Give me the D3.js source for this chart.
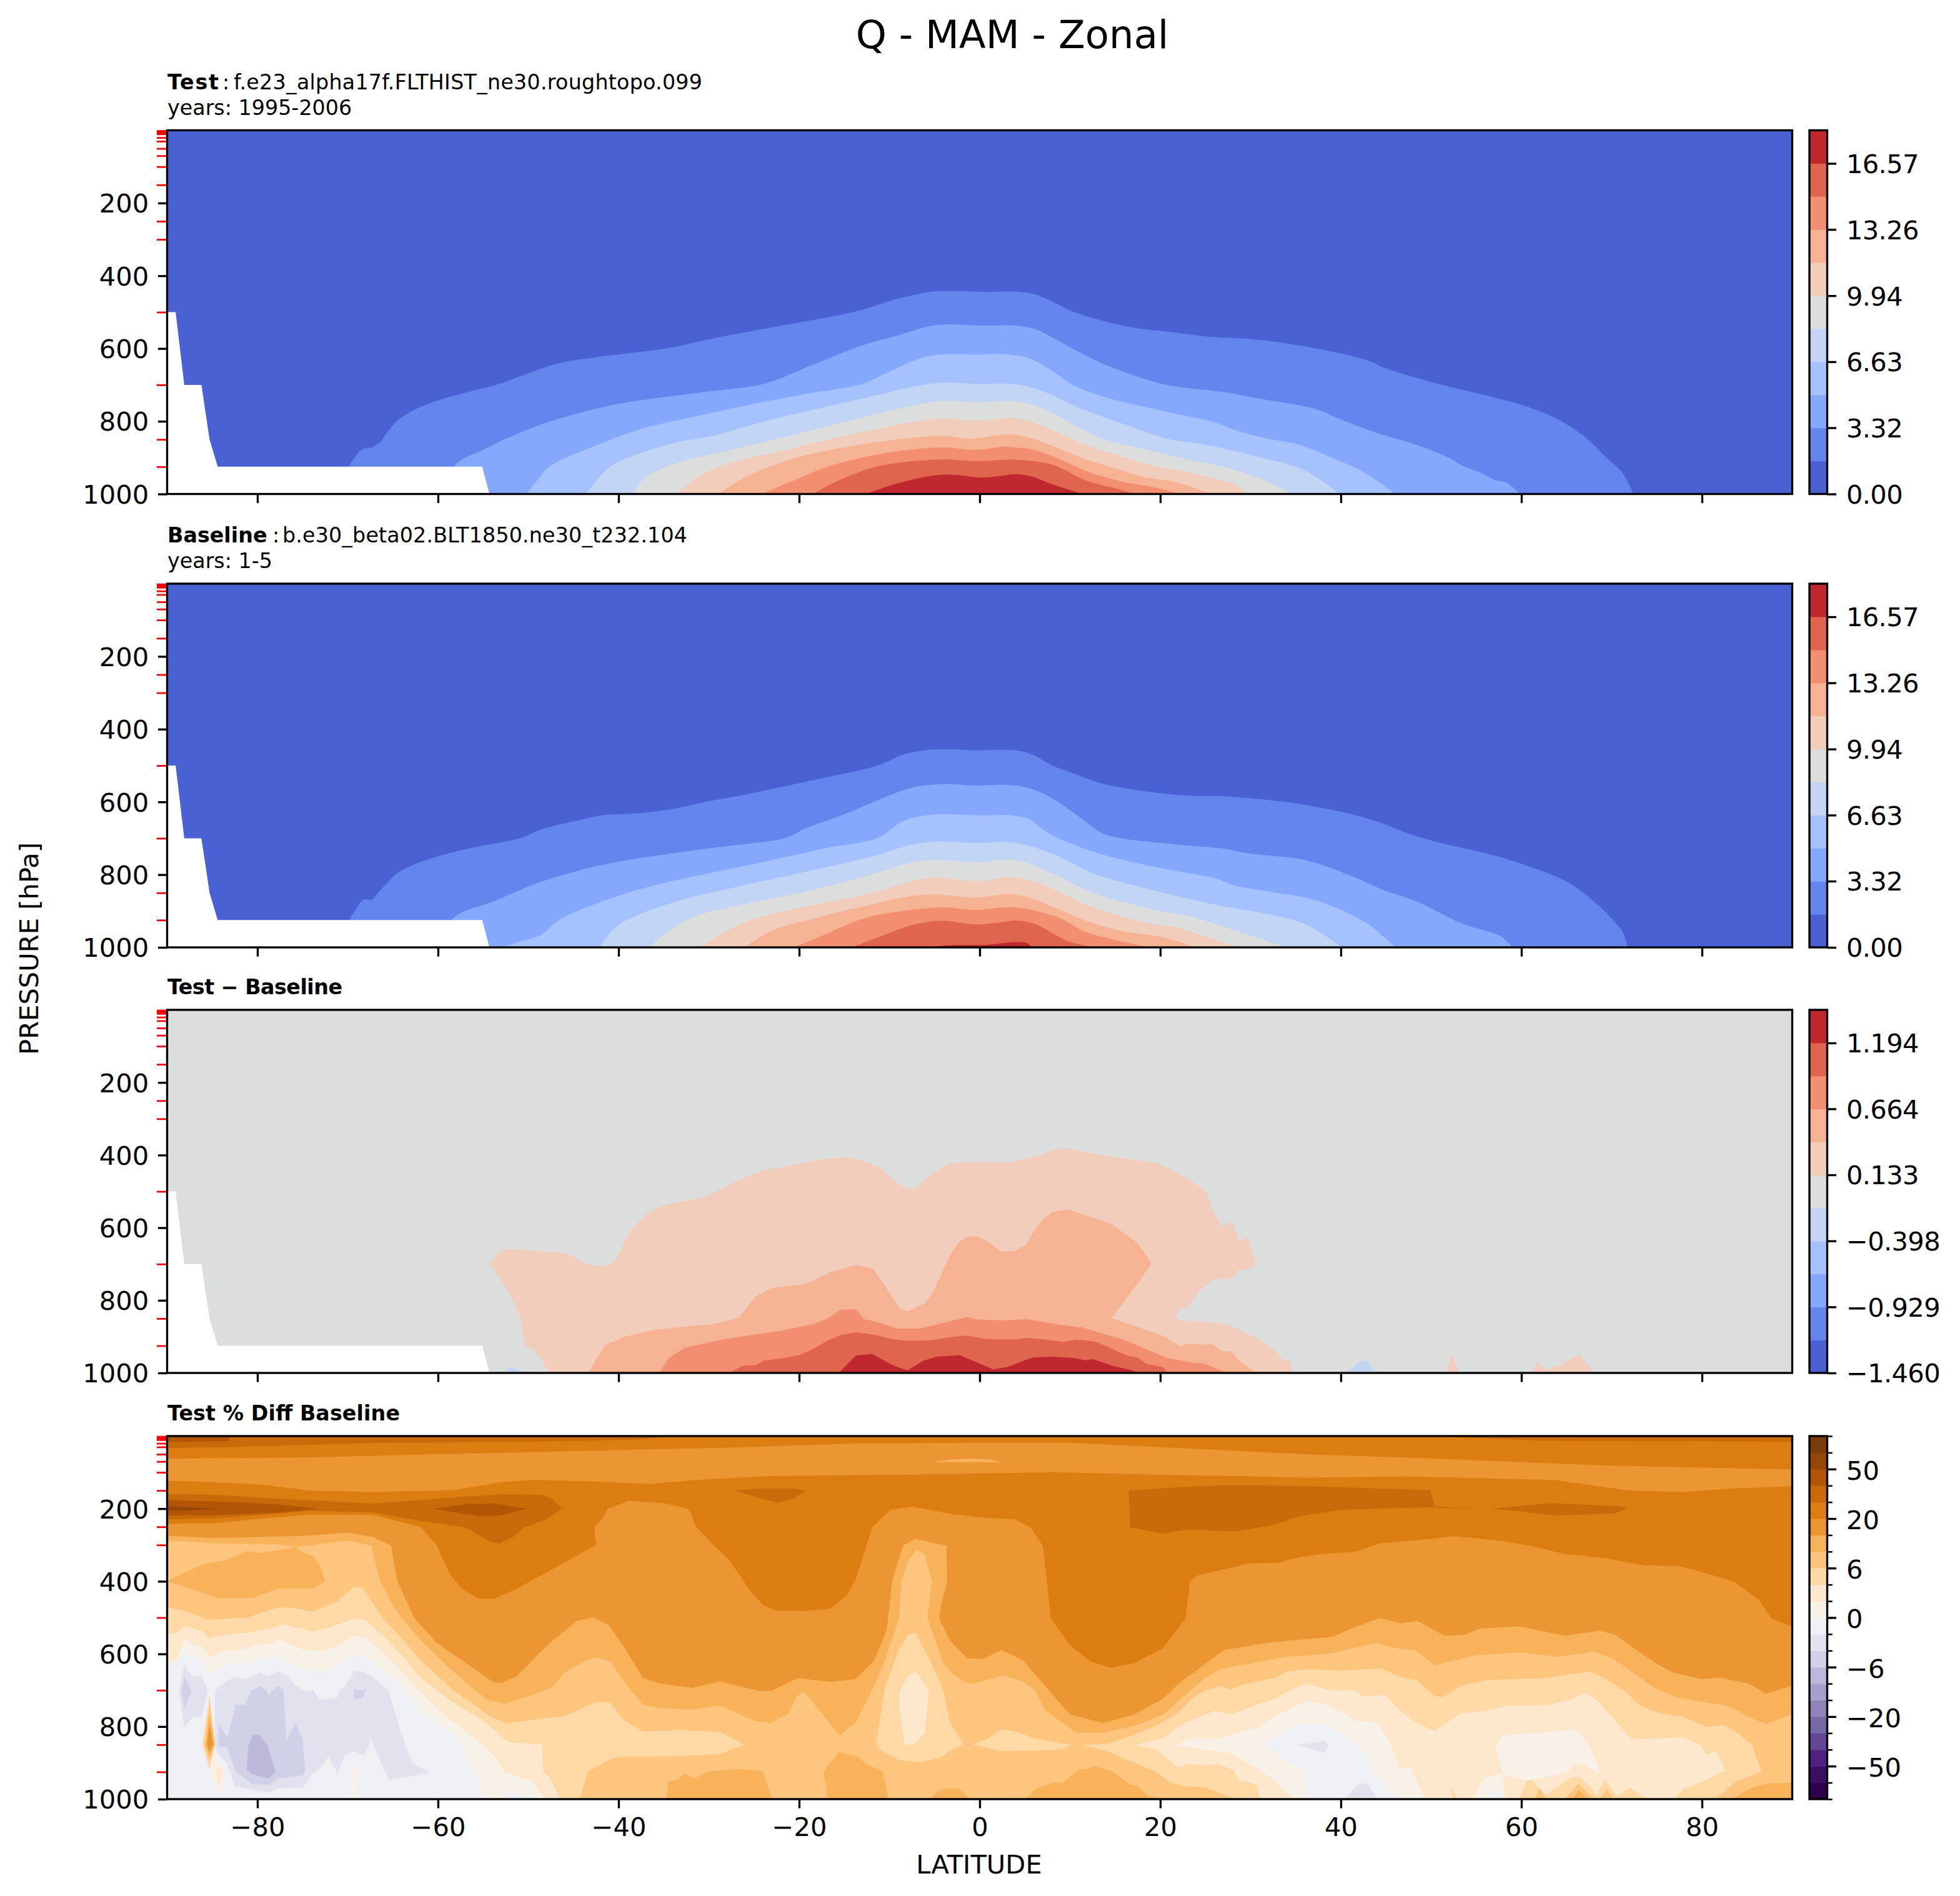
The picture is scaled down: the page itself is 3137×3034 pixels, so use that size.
<!DOCTYPE html>
<html><head><meta charset="utf-8">
<script src="https://cdn.jsdelivr.net/npm/d3@7"></script>
<style>html,body{margin:0;padding:0;background:#fff}svg{display:block}</style>
</head><body><svg id="c" width="3137" height="3034"></svg>
<script>
// ---------- tick values and labels ----------
const latTicks=[-80,-60,-40,-20,0,20,40,60,80];
const pTicks=[200,400,600,800,1000];
const levTicks=[1,2,3,5,7,10,20,30,50,70,100,150,250,300,500,700,850,925];
const coolColors=["#4961d2","#6485ec","#85a8fc","#a5c2fe","#c3d5f4","#dcdddd","#f2cdbb","#f6b394","#f18f70","#e0654f","#c0282f"];
const puorColors=["#2d004b","#3a1064","#502382","#644696","#7868a5","#8f83b8","#a8a0cc","#bcb8da","#d0d1e6","#e1e2ee","#eff0f3","#f8f1e8","#fde8cd","#fed8a5","#fdc57d","#f8b25a","#eb9632","#dc7d12","#c8690a","#b25606","#964607","#7b3b0a"];
const qTicks=[0,3.32,6.63,9.94,13.26,16.57];
const qLevelRange=[0,18.23];
const diffTicks=[-1.46,-0.929,-0.398,0.133,0.664,1.194];
const diffLevelRange=[-1.46,1.46];
const pctLevels=[-100,-75,-50,-40,-30,-20,-15,-10,-6,-4,-2,0,2,4,6,10,15,20,30,40,50,75,100];
const pctLabelled=[-50,-20,-6,0,6,20,50];
// surface mask (lat, hPa)
const maskOutline=[-90,500,-89.06,500,-88.1,700,-86.2,700,-85.3,850,-84.4,925,-55.1,925,-54.3,1000,-90,1000];

// ---------- Test panel: isolines, lat/hPa pairs ----------
const testIso1=[-69.9,1000,-69.8,924,-69.2,899,-68.3,876,-67.3,872,-66.4,857,-65.6,830,-64.4,796,-62.5,767,-59.8,741,-56,715,-53.3,698,-49.9,667,-46.2,638,-42.5,624,-38.1,611,-34.1,597,-30.1,575,-23.9,546,-17.7,518,-13.7,498,-9.1,463,-5.4,444,-3.5,442,0.8,444,4.25,444,5.8,449,7.65,466,10.1,496,13.2,521,16.9,542,21.3,555,25.6,568,30.5,575,35.5,592,42.9,632,44.7,652,50.9,698,57.1,735,60.8,761,63.9,793,67,842,69.5,902,71.2,942,72.4,1000];
const testIso2=[-58.3,1000,-58.2,924,-54.8,876,-49.9,821,-46.2,790,-41.2,758,-36.3,738,-30.1,718,-23.9,697,-19,650,-13.4,595,-9.1,564,-5.4,538,-3.5,534,0.8,537,3.95,537,6.1,546,7.65,564,10.1,598,13.2,637,16.3,667,20.3,698,22.5,707,27.4,721,30.5,736,37.3,767,39.8,793,44.1,833,48.4,865,52.1,902,53.4,922,55.5,942,57.1,962,58.3,968,59.9,1000];
const testIso3=[-50.2,1000,-48.9,959,-47.5,922,-42.5,867,-37.5,821,-32.6,793,-25.2,753,-19,724,-13.1,698,-10.3,667,-6.6,627,-4.1,616,-0.4,617,2.1,615,4.25,620,5.8,630,8,661,10.4,701,13.8,733,20,770,26.2,804,28,822,31.8,847,35.5,865,38.6,896,41.6,928,44.1,965,46,1000];
const testIso4=[-43.6,1000,-42.1,953,-40.6,919,-37.5,887,-33.2,856,-30.1,843,-23.9,801,-17.7,764,-11.6,730,-7.8,707,-4.1,694,-0.4,697,3.3,697,5.2,704,7.65,724,10.1,753,12.9,781,16.9,816,20.9,849,25.6,867,30.5,896,35.5,930,38,965,39.8,1000];
const testIso5=[-38.4,1000,-37.2,959,-34.4,922,-27.6,879,-21.4,842,-15.3,804,-9.7,770,-6.6,753,-4.1,744,-0.4,748,2.7,744,3.3,743,5.2,750,7.65,773,10.7,813,13.5,847,19.7,885,23.1,905,27.4,928,31.8,965,34.5,1000];
const testIso6=[-33.5,1000,-31.6,959,-28.2,919,-22,882,-15.9,845,-10.3,816,-6.6,799,-4.1,793,-0.4,799,2.7,792,3.3,790,5.5,800,8.3,827,11.4,862,15.7,896,19.1,922,22.5,936,26.2,959,28,970,29.6,1000];
const testIso7=[-28.9,1000,-26.4,959,-21.4,908,-15.3,873,-9.1,850,-4.1,840,-1,848,2.7,836,3.6,836,5.8,847,8.3,870,11.4,902,15.1,930,18.2,953,21.9,968,25.6,1000];
const testIso8=[-24.1,1000,-20.2,959,-16.5,922,-10.3,887,-4.1,872,-0.4,879,2.7,870,3.6,871,6.1,879,8.9,905,11.7,936,15.1,962,20,985,22.2,1000];
const testIso9=[-18.5,1000,-15.3,959,-10.9,922,-4.1,905,-0.4,910,2.7,906,3.6,905,8,919,11.7,962,15.1,985,17.2,1000];
const testIso10=[-12.6,1000,-9.1,971,-4.8,948,-2.3,948,0.2,955,2.7,949,3.6,946,5.5,950,8,973,11.4,1000];

// ---------- Baseline panel ----------
const baseIso1=[-69.9,1000,-69.8,925,-69.2,900,-68.3,869,-67.3,868,-66.6,848,-65.6,822,-64.4,794,-62.5,771,-59.8,748,-56,725,-50.8,699,-48.6,676,-44.9,653,-41.8,637,-38.1,632,-34.1,620,-30.1,599,-25.2,576,-17.7,536,-11.2,499,-8.5,470,-6,458,-3.5,455,-1,458,4.25,459,6.1,473,8,499,10.1,519,13.2,547,17.5,568,22.5,582,27.4,585,35.5,606,42.9,645,49,699,57.1,748,60.8,777,65.1,820,68.2,877,70.1,923,71.2,957,71.8,1000];
const baseIso2=[-58.6,1000,-58.5,925,-53.6,871,-48.6,820,-42.5,777,-37.5,754,-30.1,728,-21.4,698,-19.6,676,-14.6,630,-10.3,585,-7.2,559,-4.1,551,-0.4,555,2.7,553,4.25,556,6.4,570,8.6,599,11.4,648,13.5,685,15.4,699,21.3,716,27.1,729,29.9,742,35.5,757,38,774,41.6,808,44.7,842,48.4,874,53.4,934,57.1,963,58,974,59,1000];
const baseIso3=[-52.8,1000,-50.8,983,-48.6,966,-46.5,923,-42.5,880,-36.3,831,-30.1,797,-23.9,765,-17.2,728,-11.2,698,-8.5,653,-5.7,636,-3.5,634,-0.4,637,2.7,636,3.3,636,5.5,648,7,676,8.6,699,13.2,742,20,782,26.2,811,28,828,32.4,848,37.3,871,42.9,934,44.7,971,46.1,1000];
const baseIso4=[-42.1,1000,-40.6,951,-38.7,920,-33.2,871,-27,834,-19,791,-11.6,748,-7.8,719,-4.8,709,-0.4,713,2.7,710,3,710,5.2,719,8.3,745,12.6,797,20,848,26.2,883,32.4,911,36.1,937,40.1,1000];
const baseIso5=[-36.7,1000,-32.3,923,-26.4,883,-19,845,-11.6,797,-7.8,768,-4.8,759,-0.4,766,2.7,759,3.3,759,5.2,767,8.3,800,12.6,851,19.4,897,23.1,914,28,951,33.9,1000];
const baseIso6=[-30.9,1000,-28.2,957,-24.8,920,-17.7,880,-11.6,848,-7.8,820,-4.8,808,-0.4,818,2.7,808,3.6,807,5.8,817,8.9,848,12.6,891,18.8,934,21.9,946,28.4,1000];
const baseIso7=[-26,1000,-23.3,957,-18.3,920,-12.2,883,-7.8,860,-4.8,855,-0.4,863,2.7,854,3.3,854,5.5,863,8.9,897,12.6,934,16.3,957,20.6,974,23.8,1000];
const baseIso8=[-20.6,1000,-18.3,977,-12.8,920,-8.5,900,-4.1,890,-0.4,897,2.7,890,3.6,890,5.8,897,9.2,923,11.4,954,14.5,977,18.8,1000];
const baseIso9=[-14.2,1000,-10.9,969,-7.2,937,-4.1,927,-0.4,937,2.7,930,3.9,926,6.1,935,8,960,9.8,983,12.5,1000];
const baseIso10=[-5.4,1000,-3.5,994,0.8,993,2.7,988,3.6,986,5.2,988,5.8,1000];

// ---------- Test - Baseline panel ----------
const diffPos1=[-47.7,1000,-48.6,961,-49.4,935,-50.4,925,-50.8,852,-51.7,800,-52.7,755,-54.2,700,-53.3,669,-52.3,659,-51.4,659,-49.3,665,-46.5,667,-45.2,677,-43.7,700,-42.5,706,-40.8,700,-40,674,-38.8,611,-37.2,568,-35.7,545,-33.8,531,-30.7,517,-29.5,503,-26.4,465,-23.9,442,-20.8,428,-17.7,412,-14.6,406,-12.8,417,-10.9,437,-9.4,471,-8,493,-7.1,491,-5.1,448,-3.5,425,-1.6,419,1.5,419,3.3,420,6.7,400,8,387,9.5,380,13.5,400,19.7,422,22.5,457,25.1,500,26,563,26.9,598,27.9,582,28.8,638,29.7,627,30.6,700,29.7,715,28.7,715,27.9,742,25.9,742,24.2,778,23.1,819,22.2,825,21.6,849,22.5,856,25,859,27.4,866,30.8,904,32.7,938,33.6,965,34.4,967,34.7,1000];
const diffPos2=[-43.4,1000,-41.5,924,-39.4,901,-36.3,882,-32.6,872,-29.5,865,-26.7,849,-24.8,789,-23,766,-19.3,755,-16.5,722,-13.7,703,-11.8,713,-9.7,789,-8.8,823,-8,831,-6.1,809,-5.1,775,-3.8,703,-3.2,674,-2.3,640,-1.2,623,-0.1,625,0.8,637,2.4,666,3.9,664,5.2,646,6.1,606,7,577,8.1,557,9.8,550,11.4,563,14.6,590,17.4,640,18.5,677,19,700,17.9,740,16.3,792,15.4,823,14.6,849,16.6,866,20.3,898,22.2,926,23.1,920,25.9,922,26.8,940,27.9,941,28.9,971,30.7,1000];
const diffPos3=[-35.5,1000,-34.4,958,-32.6,930,-28.9,910,-25.2,895,-22,884,-18.3,865,-16.8,849,-15.4,826,-13.7,825,-12.8,852,-11.6,858,-9.1,878,-6.6,878,-2.9,855,-1.4,846,-0.4,853,2.7,855,5.2,852,8.6,866,11.4,875,15.7,907,16.6,915,20.6,958,23.1,970,25,975,26.8,995,27.4,1000];
const diffPos4=[-27.8,1000,-26.1,979,-24.8,979,-23.9,966,-21.4,958,-19.9,950,-18.3,932,-16.8,910,-15.3,895,-13.7,888,-11.6,895,-9.7,907,-7.9,912,-5.4,910,-2.9,900,-1.4,897,0.9,907,4.25,907,5.2,903,8,910,9.2,915,10.7,908,12.9,914,16.3,952,17.5,958,18.5,975,20.3,984,20.9,1000];
const diffPos5=[-15.6,1000,-13.7,952,-11.9,948,-9.7,978,-8,993,-6.3,967,-4.7,955,-2.2,951,-0.4,970,1.5,990,3,984,5.8,958,8,955,10.4,959,11.7,965,12.6,962,14.5,979,16.6,991,17.7,1000];
const diffNegA=[-52.3,1000,-52.3,984,-51.4,988,-50.5,1000];
const diffNegB=[40.7,1000,42,970,42.9,964,43.8,1000];
const diffPosA=[51.7,1000,52.3,946,53.1,1000];
const diffPosB=[61.1,1000,61.8,970,62.8,994,63.6,983,64.5,978,65.5,958,66.5,951,68,1000];

// ---------- Test % Diff panel ----------
const pctTopA=[-90,0,-90,62,-75,59,-60,50,-46,42,-39.3,38,-27.4,32,-14.7,21,2.8,18,9.6,18,23,34,36,50,52.6,64,69,81,90,92,90,0];
const pctTopB=[-90,0,-90,33,-83.2,30,-67.2,19,-46,14,-37.3,9,-35.3,3,-33,0];
const pctTopC=[-90,0,-90,16,-83.2,14,-83,0];
const pctTopD=[48,0,55,5,62.6,13,75,14,90,15,90,0];
const pctPatch=[-5.3,72,-3,64,-1,62,1,64,2.6,72];
const pctMid=[-90,123,-84.8,127,-79.5,134,-74.2,150,-67.2,154,-58.3,149,-53,127,-49.5,121,-42.5,125,-36.5,132,-36.1,131,-31.4,121,-23.4,110,-7.5,106,8.4,100,23,108,30.6,111,36.1,115,47.1,111,63.7,121,71.9,150,78,154,83,145,90,138,90,526,87.7,502,86.3,451,83.5,400,80.2,376,77.5,358,73.6,356,69.2,336,64.8,325,61.5,305,58.2,290,52.6,276,49.3,285,44.4,295,41.6,319,37.7,325,34.4,339,33.3,349,29.7,351,27.8,363,24.2,383,23.3,400,22.8,502,20.3,584,17.1,625,14.5,638,12.3,621,10,577,7.9,502,7,302,5.6,251,3.8,229,0.4,225,-3.5,213,-7.5,194,-9.9,203,-11.9,251,-13.7,393,-14.7,438,-16.5,475,-19.4,482,-22.6,480,-24,465,-25.4,427,-27.8,339,-29.6,298,-31.4,251,-32.2,201,-34.9,185,-36.9,181,-38.9,179,-41.2,200,-41.8,227,-42.7,251,-42.5,300,-47.8,373,-51.3,421,-53.8,448,-55.5,448,-57.3,421,-58.7,380,-59.6,332,-60.1,302,-61.9,251,-67.2,217,-74.2,217,-79.5,227,-84.8,240,-90,242];
const pctMidA=[-90,159,-84.8,162,-79.5,170,-74.2,177,-67.2,186,-61.9,176,-56.6,166,-53,161,-48.5,162,-47.2,176,-46.3,200,-48.1,230,-50.4,251,-51.7,278,-53.2,296,-54.5,288,-56.2,261,-57.1,251,-61.9,234,-67.2,210,-74.2,206,-79.5,217,-84.8,227,-90,229];
const pctMidB=[-90,176,-81.3,183,-77.8,188,-73.2,200,-77.8,211,-84.8,218,-90,218];
const pctMidC=[-60.5,200,-56.6,187,-53.8,186,-50.2,200,-53,218,-55.2,221,-58.3,210];
const pctMidD=[-90,193,-87.3,196,-84.5,200,-87.3,204,-90,206];
const pctMidE=[-27.1,150,-24.6,145,-20.6,145,-19.2,150,-20.6,172,-22.2,184,-24.2,172];
const pctMidF=[16.5,150,23,140,27.8,135,36.1,138,49.9,149,50.4,193,54.8,200,49.3,196,39.9,203,35,223,32.8,244,28.3,263,22.8,257,20.3,269,18.3,259,16.7,251];
const pctMidG=[56.6,200,63.1,185,70.8,193,71.7,200,70.3,213,63.7,219,59.8,207];
const pctBand15=[-90,274,-84.8,281,-79.5,278,-74.2,274,-70,266,-67.2,278,-65.2,302,-64.5,400,-62.6,502,-60.1,570,-56.6,631,-53.8,679,-53,680,-51.3,662,-47.8,574,-44.6,509,-42.8,499,-41,523,-39.3,584,-37.3,666,-35.3,682,-31.8,693,-28.8,676,-24.2,703,-23,701,-20.2,667,-16.5,677,-13.7,669,-11.7,618,-10.3,536,-9.7,400,-8.5,302,-7.1,283,-3.7,302,-3.6,400,-4.3,468,-4.5,502,-3.3,563,-1.4,612,0.4,614,2.4,589,4.8,618,7.6,699,10,767,13.7,790,17.1,767,20.3,723,22.3,676,25,628,27,590,31.7,570,34.4,563,39.1,553,41.6,526,44.4,501,46.6,516,48.5,509,51.5,550,53.7,548,55.4,530,59.8,524,64.8,550,68.6,536,70.3,546,75,628,76.9,652,80,669,81.9,665,85.2,682,87.1,710,90,687,90,1000,-90,1000];
const pctBand14=[-90,288,-84.8,295,-77.8,298,-75.7,305,-70,288,-67.4,302,-66.4,400,-65.1,461,-64,502,-61.9,563,-59.1,631,-56.6,686,-54.5,727,-52.7,737,-49.5,713,-47.4,693,-46,652,-43.9,621,-42.5,609,-40.9,621,-39.3,679,-37.3,740,-35.3,749,-31.8,754,-28.8,742,-25,784,-23.2,790,-21.2,764,-20.2,716,-19.4,705,-17.8,754,-15.5,825,-13.7,788,-11.9,699,-10.5,618,-8.9,499,-8.7,400,-7.9,342,-7,313,-6.1,325,-5.3,400,-5.8,502,-4,625,-3.2,652,-1.6,679,-0.6,682,2.6,659,4.8,676,6.2,703,7.2,754,10.7,817,13.7,817,17.1,798,20.3,767,22.3,723,25,665,26.7,642,29.2,630,33.9,608,38.8,599,43.8,570,46.6,587,48.2,589,50.4,631,54.8,604,59.8,596,64.2,608,68.1,594,70.3,615,74.7,693,76.9,718,80.2,733,83,744,85.2,774,87.1,793,90,766,90,1000,-90,1000];
const pctIsle15A=[-90,400,-88.2,377,-85.7,351,-83.4,341,-81.3,317,-79.5,322,-75.8,306,-74.9,322,-73.9,329,-73,360,-72.5,400,-73.9,421,-77.8,421,-80.6,446,-84.5,446,-87.3,421];
const pctIsle15B=[-34.7,1000,-34.5,951,-33.6,948,-32.6,929,-31.6,943,-30.2,924,-27,917,-25,920,-24,924,-23,1000];
const pctIsle15C=[-16.8,1000,-17.3,924,-15.6,870,-13.5,883,-12.5,905,-10.7,924,-10.1,1000];
const pctIsle15D=[-5.5,1000,-4.3,973,-2.4,970,-1.2,995,-1.1,1000];
const pctIsle15E=[5,1000,6.2,972,8,955,9.2,955,11,918,11.7,918,12.7,909,14.7,924,16.7,961,17.5,963,18.5,990,20.1,1000];
const pctIsle15F=[83.3,1000,85.5,968,87.4,957,90,955,90,1000];
const pctBand13L=[-90,470,-87.7,485,-85.4,506,-81,499,-77.8,472,-76.4,472,-73.9,483,-71.1,455,-69.3,414,-68.2,421,-67.2,461,-66.1,502,-64,557,-61.9,618,-58.3,700,-54.1,774,-52.3,791,-48.5,778,-46,771,-42.5,733,-41,733,-39.3,784,-37.3,814,-33.3,810,-28.8,815,-26,850,-28.8,876,-34.1,882,-39.3,883,-40.7,887,-43.4,924,-44.3,1000,-90,1000];
const pctBand13C=[-7.9,545,-7.1,542,-5.5,618,-4.1,693,-3.3,788,-1.8,849,-3.4,869,-4.3,886,-6.7,898,-8.9,893,-10.7,869,-11.5,849,-10.5,693,-8.9,584];
const pctBand13D=[-0.8,849,0.8,835,2.4,807,4.2,815,6,832,10.2,851,9,863,6.8,866,2.4,868,0.4,856];
const pctBand13R=[11.2,851,14.3,846,17.5,819,19.5,798,21.7,767,23.7,720,25,700,26.7,687,27.8,698,28.9,686,32.8,665,34.1,648,36.1,642,39.9,646,44.4,640,46.6,664,48.5,672,50.4,717,51.4,718,53.2,689,56,672,62.6,667,67.5,648,69.2,666,71.7,706,73,740,75,761,78,774,80.5,801,82.4,795,83.8,815,85.5,849,86.6,924,83.8,951,81.9,992,81.5,1000,28.1,1000,26.1,978,25,968,22.8,965,21.2,955,19.5,924,16.7,896,13.9,866];
const pctBand12L=[-90,544,-89.1,544,-88.1,524,-86.2,536,-85.4,557,-83.4,547,-81.3,542,-78.5,530,-77.1,518,-73.9,538,-71.8,526,-69.3,502,-67.9,509,-66.1,550,-64,604,-61.9,666,-58.7,727,-54.8,788,-52.3,842,-48.5,850,-48.3,927,-47.6,941,-46.5,1000,-90,1000];
const pctBand12C=[-8.9,703,-7.9,659,-7,648,-5.6,703,-6.1,818,-7.3,850,-8.3,850,-8.9,754];
const pctBand12R=[17.1,851,20.3,832,22.8,788,26.1,757,27.8,767,30.6,740,32.8,723,34.1,703,36.1,682,38.8,700,41.6,700,42.4,717,44.9,713,46.6,757,48.2,788,50.4,812,53.2,764,56,757,58.2,744,63.1,740,65.3,727,67,707,68.4,727,70.8,795,72.2,835,78,830,79.7,849,80.5,876,81.6,869,82.6,920,80.2,951,78,971,76.9,1000,31.1,1000,30.6,958,28.6,948,28.1,920,26.4,903,25,907,23.1,903,22,913,19.5,863];
const pctSpike13=[52.4,1000,52.2,961,52.9,1000];
const pctBump13=[59.8,1000,60.6,948,61.2,948,62.6,989,65.3,944,66.4,937,68.4,989,69.2,944,70.6,992,72,968,73.9,1000];
const pctBump14=[61.5,1000,62,968,62.8,1000,64.8,1000,66.3,958,68.1,1000,68.6,1000,69.5,971,70.2,1000];
const pctBump15=[65.6,1000,66.4,975,67.3,1000];
const pctBand11L=[-90,621,-88.9,618,-88.1,558,-87.1,576,-86.2,577,-85.3,609,-83.4,591,-81.5,587,-79.5,572,-78.7,574,-77.6,560,-75,589,-72.8,592,-71.1,580,-69.3,550,-67.9,557,-64.7,631,-61.9,706,-59.1,774,-55.9,832,-53.8,883,-52.5,927,-49.5,951,-48.3,1000,-90,1000];
const pctBand11R=[21.7,851,23.4,834,26.7,834,28.6,817,30.8,803,32.8,771,36.1,732,38.3,737,40.2,761,41.6,785,44.1,791,45.5,849,46.6,917,47.7,910,49.3,1000,34.7,1000,32.8,951,30.8,917,27.8,873,25,863];
const pctBand11F=[57.1,852,57.9,825,62,817,65.6,810,66.4,815,67.5,856,68.5,907,68.6,931,67,904,65.6,904,65.3,924,63.7,934,62,944,60.6,948,59.3,941,57.9,929,57.6,897];
const pctBand11G=[54.6,1000,55.9,941,57.9,929,58.2,1000];
const pctBand10L=[-90,623,-88.9,623,-88.1,597,-86.2,614,-85.4,660,-83.4,628,-81.7,628,-79.5,611,-77.8,606,-74.6,645,-72.1,648,-69.3,601,-67.2,618,-63.6,700,-61.9,754,-60.1,788,-58,829,-55.9,927,-55,1000,-90,1000];
const pctBand10R=[31.4,849,33.3,818,35.5,791,38.3,791,40.5,825,43.3,887,43.5,931,46.6,1000,36.6,1000,35.8,924];
const pctBand10K=[-52.5,1000,-52.2,977,-50.6,988,-49.3,1000];
const pctBand10M=[56.4,1000,57,965,58,1000];
const pctLift11=[-69.6,927,-69,907,-68.6,931,-69.2,1000,-69.7,1000];
const pctBand9A=[-88.1,628,-87.3,662,-86.2,659,-85.5,701,-86.2,778,-87.1,771,-88.1,803,-88.7,703];
const pctBand9B=[-84.7,703,-83.4,674,-82.4,664,-81.3,670,-79.7,650,-78.7,662,-77.7,647,-76.7,662,-75.8,686,-74.8,703,-73.8,699,-73.1,727,-71.1,720,-70.9,699,-70.2,686,-69.3,648,-68.4,648,-67.2,665,-65.5,701,-64.7,767,-63.6,856,-62.8,900,-60.9,926,-65.4,948,-66.5,890,-67.4,835,-68.2,880,-69.3,868,-70.4,880,-71.1,931,-72.1,883,-73,913,-74,931,-74.9,968,-77.8,971,-78.7,982,-82.5,966,-83.4,900,-84.3,876,-84.7,850];
const pctBand9C=[35.2,851,38.3,839,38.6,852,38.2,873];
const pctBand9D=[40.5,1000,41.9,958,43,958,44.1,1000];
const pctBand8A=[-80.7,701,-79.7,689,-79,701,-78.7,714,-78.3,699,-77.7,689,-77.1,701,-76.8,839,-75.8,791,-75,832,-74.7,924,-75,934,-77.8,944,-78.7,961,-80.6,958,-82.4,924,-83.4,856,-84.3,856,-84.3,795,-83.3,829,-82.4,740,-81.4,740];
const pctBand8B=[-88.1,662,-87.3,701,-88.1,753,-88.4,701];
const pctBand8C=[-69.3,696,-68,701,-68.4,723,-69.3,723];
const pctBand7A=[-80.5,822,-79.7,823,-78.8,856,-78,924,-78.7,943,-80.6,931,-81.2,920,-81,852];
const pctFlank11=[-84.7,863,-83.7,927,-84.3,1000,-85.3,910];
const pctFlank12=[-84.3,904,-83.8,927,-84.3,971,-84.7,927];
const pctSpikeA=[-85.3,713,-84.7,849,-85.3,917,-86.1,849];
const pctSpikeB=[-85.3,740,-84.7,849,-85.3,897,-85.9,849];
const pctSpikeC=[-85.3,767,-84.8,849,-85.3,883,-85.7,849];
const pctSpikeD=[-85.3,795,-84.9,849,-85.3,870,-85.6,849];

const testLayers=[testIso1,testIso2,testIso3,testIso4,testIso5,testIso6,testIso7,testIso8,testIso9,testIso10].map((d,i)=>[i+1,d]);
const baseLayers=[baseIso1,baseIso2,baseIso3,baseIso4,baseIso5,baseIso6,baseIso7,baseIso8,baseIso9,baseIso10].map((d,i)=>[i+1,d]);
const diffLayers=[[6,diffPos1],[7,diffPos2],[8,diffPos3],[9,diffPos4],[10,diffPos5],[4,diffNegA],[4,diffNegB],[6,diffPosA],[6,diffPosB]];
const pctLayers=[[17,pctTopA],[18,pctTopB],[19,pctTopC],[18,pctTopD],[15,pctPatch],[17,pctMid],[18,pctMidA],[19,pctMidB],[19,pctMidC],[20,pctMidD],[18,pctMidE],[18,pctMidF],[18,pctMidG],
 [15,pctBand15],[14,pctBand14],[15,pctIsle15A],[15,pctIsle15B],[15,pctIsle15C],[15,pctIsle15D],[15,pctIsle15E],[15,pctIsle15F],
 [13,pctBand13L],[13,pctBand13C],[13,pctBand13D],[13,pctBand13R],[12,pctBand12L],[12,pctBand12C],[12,pctBand12R],[13,pctSpike13],[13,pctBump13],[14,pctBump14],[15,pctBump15],
 [11,pctBand11L],[11,pctBand11R],[11,pctBand11F],[11,pctBand11G],[10,pctBand10L],[10,pctBand10R],[10,pctBand10K],[10,pctBand10M],[11,pctLift11],
 [9,pctBand9A],[9,pctBand9B],[9,pctBand9C],[9,pctBand9D],[8,pctBand8A],[8,pctBand8B],[8,pctBand8C],[7,pctBand7A],
 [11,pctFlank11],[12,pctFlank12],[13,pctSpikeA],[14,pctSpikeB],[15,pctSpikeC],[16,pctSpikeD]];

// ---------- layout ----------
const FONT="DejaVu Sans", TICK=41.67, SUB=33.33, LW=3.33, TL=14.6, PAD=14.6;
const X0=267.5,X1=2868.5,CB0=2896,CB1=2924.5,CBPAD=15.9;
const svg=d3.select("#c");
const x=d3.scaleLinear().domain([-90,90]).range([X0,X1]);
const pairs=f=>d3.range(0,f.length,2).map(i=>[f[i],f[i+1]]);
const panels=[
 {top:208.5,bot:790.5,layers:testLayers,base:0,colors:coolColors,mask:true,smooth:true,range:qLevelRange,ticks:qTicks,fmt:d3.format(".2f")},
 {top:934,bot:1516,layers:baseLayers,base:0,colors:coolColors,mask:true,smooth:true,range:qLevelRange,ticks:qTicks,fmt:d3.format(".2f")},
 {top:1616,bot:2197,layers:diffLayers,base:5,colors:coolColors,mask:true,range:diffLevelRange,ticks:diffTicks,fmt:d3.format(".3f")},
 {top:2298,bot:2879,layers:pctLayers,base:16,colors:puorColors,mask:false,xlabels:true}
];
function styleLabels(a,extra,shift){
 a.select(".domain").remove();
 a.selectAll("line").attr("stroke","#000").attr("stroke-width",LW);
 a.selectAll("text").attr("font-family",FONT).attr("font-size",TICK).attr("fill","#000");
 if(extra) a.selectAll("text").attr("letter-spacing",extra);
 if(shift) a.selectAll("text").attr("y",shift);
}
panels.forEach((P,ip)=>{
 const g=svg.append("g");
 const y=d3.scaleLinear().domain([0,1000]).range([P.top,P.bot]);
 const sharp=d3.line().x(d=>x(d[0])).y(d=>y(d[1])).curve(d3.curveLinearClosed);
 const round=d3.line().x(d=>x(d[0])).y(d=>y(d[1])).curve(d3.curveCatmullRom.alpha(0.5));
 const shape=pts=>P.smooth?round(pts)+"Z":sharp(pts);
 const cid="clip"+ip;
 g.append("clipPath").attr("id",cid).append("rect").attr("x",X0).attr("y",P.top).attr("width",X1-X0).attr("height",P.bot-P.top);
 const body=g.append("g").attr("clip-path",`url(#${cid})`);
 body.append("rect").attr("x",X0).attr("y",P.top).attr("width",X1-X0).attr("height",P.bot-P.top).attr("fill",P.colors[P.base]);
 body.selectAll("path.l").data(P.layers).join("path").attr("class","l").attr("d",d=>shape(pairs(d[1]))).attr("fill",d=>P.colors[d[0]]);
 if(P.mask) body.append("path").attr("d",sharp(pairs(maskOutline))).attr("fill","#fff");

 const red=g.append("g").attr("transform",`translate(${X0},0)`).call(d3.axisLeft(y).tickValues(levTicks).tickFormat("").tickSize(16.5).tickSizeOuter(0));
 red.select(".domain").remove();
 red.selectAll("line").attr("stroke","#ff0000").attr("stroke-width",2.8);
 const ya=g.append("g").attr("transform",`translate(${X0},0)`).call(d3.axisLeft(y).tickValues(pTicks).tickSize(TL).tickPadding(PAD).tickSizeOuter(0).tickFormat(d3.format("d")));
 const xa=g.append("g").attr("transform",`translate(0,${P.bot})`).call(d3.axisBottom(x).tickValues(latTicks).tickSize(TL).tickPadding(PAD).tickSizeOuter(0).tickFormat(P.xlabels?d3.format("d"):""));
 styleLabels(ya,null,1.5);styleLabels(xa);
 g.append("rect").attr("x",X0).attr("y",P.top).attr("width",X1-X0).attr("height",P.bot-P.top).attr("fill","none").attr("stroke","#000").attr("stroke-width",LW);

 // colour bar
 const cb=g.append("g");
 if(P.range){
  const cy=d3.scaleLinear().domain(P.range).range([P.bot,P.top]);
  const n=P.colors.length, edges=d3.range(n+1).map(i=>P.range[0]+i*(P.range[1]-P.range[0])/n);
  cb.selectAll("rect").data(P.colors).join("rect").attr("x",CB0).attr("width",CB1-CB0)
   .attr("y",(d,i)=>cy(edges[i+1])).attr("height",(d,i)=>cy(edges[i])-cy(edges[i+1])+0.6).attr("fill",d=>d);
  const a=g.append("g").attr("transform",`translate(${CB1},0)`).call(d3.axisRight(cy).tickValues(P.ticks).tickSize(TL).tickPadding(CBPAD).tickSizeOuter(0).tickFormat(P.fmt));
  styleLabels(a,"-0.7px",1.5);
 } else {
  const cy=d3.scalePoint().domain(pctLevels).range([P.bot,P.top]);
  cb.selectAll("rect").data(P.colors).join("rect").attr("x",CB0).attr("width",CB1-CB0)
   .attr("y",(d,i)=>cy(pctLevels[i+1])).attr("height",(d,i)=>cy(pctLevels[i])-cy(pctLevels[i+1])+0.6).attr("fill",d=>d);
  const m=g.append("g").attr("transform",`translate(${CB1},0)`).call(d3.axisRight(cy).tickSize(8.3).tickSizeOuter(0).tickFormat(""));
  m.select(".domain").remove();m.selectAll("line").attr("stroke","#000").attr("stroke-width",2.5);
  const a=g.append("g").attr("transform",`translate(${CB1},0)`).call(d3.axisRight(cy).tickValues(pctLabelled).tickSize(TL).tickPadding(CBPAD).tickSizeOuter(0).tickFormat(d3.format("d")));
  styleLabels(a,null,3);
 }
 g.append("rect").attr("x",CB0).attr("y",P.top).attr("width",CB1-CB0).attr("height",P.bot-P.top).attr("fill","none").attr("stroke","#000").attr("stroke-width",LW);
});

// ---------- text ----------
function T(tx,ty,s,o={}){const t=svg.append("text").attr("x",tx).attr("y",ty).text(s).attr("font-family",FONT).attr("font-size",o.size||SUB).attr("fill","#000");
 if(o.bold)t.attr("font-weight","bold"); if(o.anchor)t.attr("text-anchor",o.anchor); if(o.rot)t.attr("transform",`rotate(-90 ${tx} ${ty})`); if(o.len)t.attr("textLength",o.len); return t;}
T(1620,77,"Q - MAM - Zonal",{size:62.5,anchor:"middle"});
T(268,143,"Test",{bold:true,len:82});T(356,143,":");T(374,143,"f.e23_alpha17f.FLTHIST_ne30.roughtopo.099",{len:750});T(268,184,"years: 1995-2006");
T(268,868,"Baseline",{bold:true});T(436,868,":");T(452,868,"b.e30_beta02.BLT1850.ne30_t232.104",{len:648});T(268,909,"years: 1-5");
T(268,1591,"Test \u2212 Baseline",{bold:true,len:280});
T(268,2273,"Test % Diff Baseline",{bold:true,len:372});
T(1567,2998,"LATITUDE",{size:TICK,anchor:"middle"});
T(61,1518,"PRESSURE [hPa]",{size:TICK,anchor:"middle",rot:true});
</script></body></html>
